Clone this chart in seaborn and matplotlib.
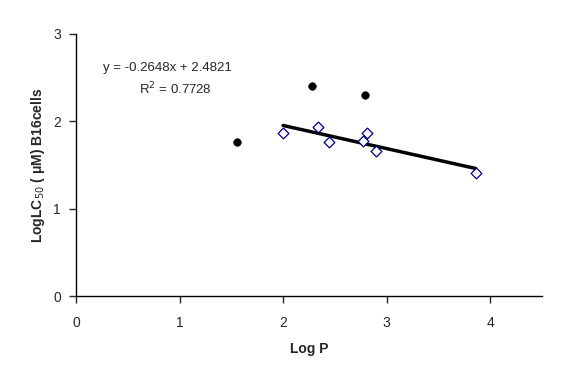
import matplotlib
matplotlib.use("Agg")
import matplotlib.pyplot as plt
import seaborn as sns
import numpy as np
import pandas as pd

# open diamonds (used for the trend line)
logp_fit = [2.00, 2.34, 2.44, 2.77, 2.81, 2.90, 3.86]
loglc_fit = [1.87, 1.93, 1.76, 1.78, 1.87, 1.66, 1.41]
# filled circles (outliers)
logp_out = [1.55, 2.28, 2.79]
loglc_out = [1.76, 2.41, 2.30]

slope = -0.2648
intercept = 2.4821
r2 = 0.7728

sns.set_style("white")
plt.rcParams['font.family'] = ['Liberation Sans', 'DejaVu Sans']

fig = plt.figure(figsize=(5.76, 3.86), dpi=100)
ax = fig.add_axes([0.132, 0.233, 0.809, 0.679])

df_fit = pd.DataFrame({'x': logp_fit, 'y': loglc_fit})
df_out = pd.DataFrame({'x': logp_out, 'y': loglc_out})

xs = np.array([min(logp_fit), max(logp_fit)])
line = pd.DataFrame({'x': xs, 'y': slope * xs + intercept})
sns.lineplot(data=line, x='x', y='y', ax=ax, color='black', lw=2.5)

sns.scatterplot(data=df_out, x='x', y='y', ax=ax, color='black', marker='o',
                s=30, edgecolor='black', zorder=3)
sns.scatterplot(data=df_fit, x='x', y='y', ax=ax, marker='D', s=30,
                facecolor='white', edgecolor='#000080', linewidth=0.9, zorder=4)

ax.set_xlim(0, 4.5)
ax.set_ylim(0, 3)
ax.set_xticks([0, 1, 2, 3, 4])
ax.set_yticks([0, 1, 2, 3])
ax.tick_params(axis='both', direction='out', length=5, width=1, labelsize=10,
               bottom=True, left=True)
ax.tick_params(axis='x', pad=9)
ax.tick_params(axis='y', pad=6)
for s in ['top', 'right']:
    ax.spines[s].set_visible(False)
for s in ['left', 'bottom']:
    ax.spines[s].set_color('black')
    ax.spines[s].set_linewidth(1)

ax.set_xlabel('Log P', fontsize=10, fontweight='bold', labelpad=9)
ax.set_ylabel(r'LogLC$_{50}$ ( $\mathregular{\mu}$M) B16cells', fontsize=10,
              fontweight='bold', labelpad=4)

ax.text(0.88, 2.61, 'y = %.4fx + %.4f' % (slope, intercept), fontsize=9.5,
        ha='center', va='center')
ax.text(0.96, 2.37, r'R$^2$ = %.4f' % r2, fontsize=9.5, ha='center', va='center')

fig.savefig('out.png', dpi=100)
